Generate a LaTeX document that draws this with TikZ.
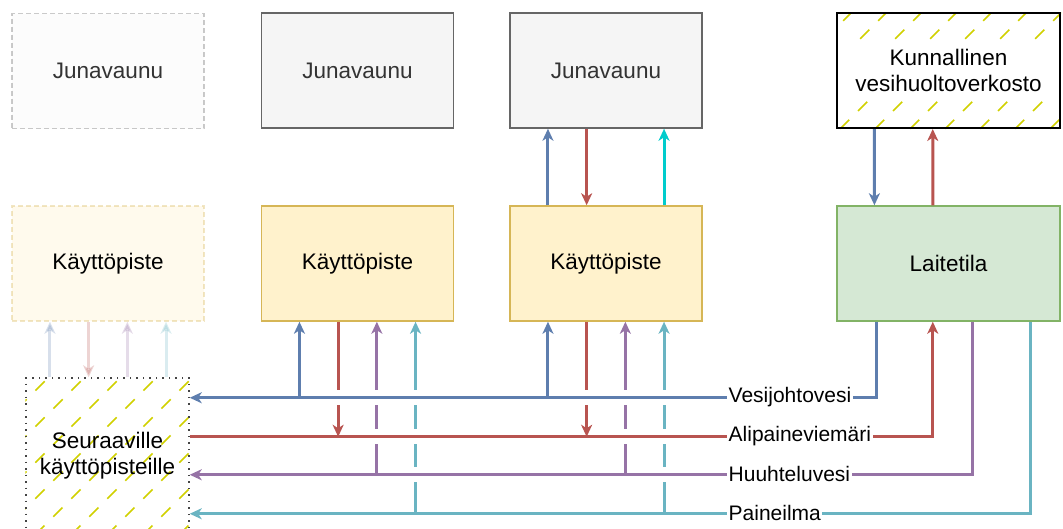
\documentclass[tikz,border=0pt]{standalone}
\usepackage{fontspec}
\setmainfont{Liberation Sans}
\usetikzlibrary{arrows.meta,calc,backgrounds}

\definecolor{cBlue}{HTML}{5E7EAE}
\definecolor{cRed}{HTML}{B85450}
\definecolor{cPurple}{HTML}{9673A6}
\definecolor{cTeal}{HTML}{6AB4C2}
\definecolor{cCyan}{HTML}{00CCCC}
\definecolor{cHatch}{HTML}{D0D000}
\definecolor{wagonFill}{HTML}{F5F5F5}
\definecolor{wagonLine}{HTML}{666666}
\definecolor{wagonText}{HTML}{333333}
\definecolor{pointFill}{HTML}{FFF2CC}
\definecolor{pointLine}{HTML}{D6B656}
\definecolor{plantFill}{HTML}{D5E8D4}
\definecolor{plantLine}{HTML}{82B366}
\definecolor{dotLine}{HTML}{444444}

\tikzset{
  box/.style={draw, line width=1.5pt, minimum width=192pt, minimum height=115pt,
    align=center, inner sep=0pt, font=\fontsize{22.5}{26}\selectfont},
  wagon/.style={box, fill=wagonFill, draw=wagonLine, text=wagonText},
  point/.style={box, fill=pointFill, draw=pointLine, text=black},
  ghost/.style={dash pattern=on 5pt off 3pt, draw opacity=0.35, fill opacity=0.35, text opacity=1},
  pipe/.style={line width=3pt},
  tip/.style={-{Stealth[length=12pt,width=11pt,inset=3.5pt]}},
  halo/.style={preaction={draw=white, line width=15pt, -}},
  faint/.style={opacity=0.25},
  hatch/.style={draw=cHatch, line width=1.7pt, dash pattern=on 13pt off 12.5pt},
  lbl/.style={fill=white, inner xsep=1.5pt, inner ysep=1pt, anchor=west,
    font=\fontsize{21}{24}\selectfont},
}

\begin{document}
\begin{tikzpicture}[x=1pt, y=-1pt]
  \useasboundingbox (0,0) rectangle (1063,528);

  % wagons
  \node[wagon, ghost] (w1) at (108,71) {Junavaunu};
  \node[wagon] (w2) at (357.5,70.5) {Junavaunu};
  \node[wagon] (w3) at (606,70.5) {Junavaunu};
  \node[box, draw=black, line width=2pt, minimum width=223pt] (net) at (948.5,70.5)
    {Kunnallinen\\vesihuoltoverkosto};

  % points of use and plant room
  \node[point, ghost] (k1) at (108,263.5) {Käyttöpiste};
  \node[point] (k2) at (357.5,263.5) {Käyttöpiste};
  \node[point] (k3) at (606,263.5) {Käyttöpiste};
  \node[box, fill=plantFill, draw=plantLine, minimum width=223pt] (lab) at (948.5,263.5) {Laitetila};

  % following points of use
  \node[box, draw=dotLine, dash pattern=on 1.5pt off 5pt, minimum width=163pt, minimum height=156pt]
    (next) at (107.5,456) {Seuraaville\\käyttöpisteille};

  % hatched fills
  \begin{scope}[on background layer]
    \begin{scope}
      \clip (next.south west) rectangle (next.north east);
      \foreach \k in {-7,...,6}
        \draw[hatch] ($(next.south west)+(\k*36+10,0)$) -- ++(240,-240);
    \end{scope}
    \begin{scope}
      \clip (net.north west) rectangle ($(net.north east)+(0,33)$)
            ($(net.south west)+(0,-30)$) rectangle (net.south east);
      \foreach \k in {-6,...,9}
        \draw[hatch] ($(net.south west)+(\k*35+4,0)$) -- ++(160,-160);
    \end{scope}
  \end{scope}

  % connection points along the bottom of each point of use
  \foreach \n in {k1,k2,k3}{
    \coordinate (\n-b) at ($(\n.south west)!0.2!(\n.south east)$);
    \coordinate (\n-r) at ($(\n.south west)!0.4!(\n.south east)$);
    \coordinate (\n-p) at ($(\n.south west)!0.6!(\n.south east)$);
    \coordinate (\n-c) at ($(\n.south west)!0.8!(\n.south east)$);
  }
  \coordinate (t3-b) at ($(k3.north west)!0.2!(k3.north east)$);
  \coordinate (t3-r) at ($(k3.north west)!0.4!(k3.north east)$);
  \coordinate (t3-c) at ($(k3.north west)!0.8!(k3.north east)$);
  \coordinate (w3-b) at ($(w3.south west)!0.2!(w3.south east)$);
  \coordinate (w3-r) at ($(w3.south west)!0.4!(w3.south east)$);
  \coordinate (w3-c) at ($(w3.south west)!0.8!(w3.south east)$);

  % plant room outlets and mains
  \coordinate (lb) at ($(lab.south west)!0.18!(lab.south east)$);
  \coordinate (lr) at ($(lab.south west)!0.43!(lab.south east)$);
  \coordinate (lp) at ($(lab.south west)!0.605!(lab.south east)$);
  \coordinate (lc) at ($(lab.south west)!0.865!(lab.south east)$);
  \coordinate (jb) at ($(lb)+(0,76)$);
  \coordinate (jr) at ($(lr)+(0,115)$);
  \coordinate (jp) at ($(lp)+(0,153)$);
  \coordinate (jc) at ($(lc)+(0,192)$);
  \coordinate (nb) at ($(net.south west)!0.17!(net.south east)$);
  \coordinate (nr) at ($(net.south west)!0.43!(net.south east)$);
  \coordinate (lt-b) at ($(lab.north west)!0.17!(lab.north east)$);
  \coordinate (lt-r) at ($(lab.north west)!0.43!(lab.north east)$);

  % wagon <-> point of use
  \draw[pipe, tip, cBlue] (t3-b) -- (w3-b);
  \draw[pipe, tip, cRed] (w3-r) -- (t3-r);
  \draw[pipe, tip, cCyan] (t3-c) -- (w3-c);

  % municipal network <-> plant room
  \draw[pipe, tip, cBlue] (nb) -- (lt-b);
  \draw[pipe, tip, cRed] (lt-r) -- (nr);

  % compressed air main
  \draw[pipe, tip, cTeal] (lc) |- (next.east |- jc);
  \foreach \n in {k2,k3}
    \draw[pipe, tip, cTeal] (\n-c |- jc) -- (\n-c);

  % flushing water main
  \draw[pipe, tip, cPurple, halo] (lp) |- (next.east |- jp);
  \foreach \n in {k2,k3}
    \draw[pipe, tip, cPurple] (\n-p |- jp) -- (\n-p);

  % vacuum sewer main
  \draw[pipe, tip, cRed, halo] (next.east |- jr) -| (lr);
  \foreach \n in {k2,k3}
    \draw[pipe, tip, cRed] (\n-r) -- (\n-r |- jr);

  % water supply main
  \draw[pipe, tip, cBlue, halo] (lb) |- (next.east |- jb);
  \foreach \n in {k2,k3}
    \draw[pipe, tip, cBlue] (\n-b |- jb) -- (\n-b);

  % faded connections to the next point of use
  \draw[pipe, tip, faint, cBlue] (k1-b |- next.north) -- (k1-b);
  \draw[pipe, tip, faint, cRed] (k1-r) -- (k1-r |- next.north);
  \draw[pipe, tip, faint, cPurple] (k1-p |- next.north) -- (k1-p);
  \draw[pipe, tip, faint, cTeal] (k1-c |- next.north) -- (k1-c);

  % line labels
  \node[lbl] (lv) at (727,397) {Vesijohtovesi};
  \node[lbl] (la) at (727,436) {Alipaineviemäri};
  \node[lbl] (lh) at (727,474) {Huuhteluvesi};
  \node[lbl] (lpi) at (727,513) {Paineilma};
\end{tikzpicture}
\end{document}
